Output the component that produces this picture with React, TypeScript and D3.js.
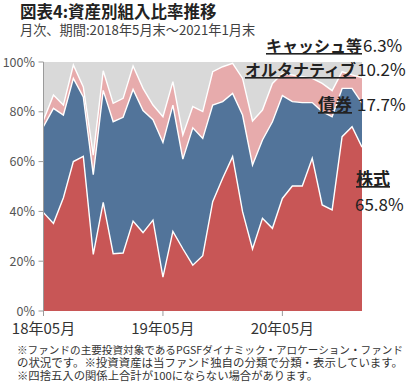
import React from "react";
import * as d3 from "d3";

const months = [
  "18年05月", "18年06月", "18年07月", "18年08月", "18年09月", "18年10月", "18年11月", "18年12月",
  "19年01月", "19年02月", "19年03月", "19年04月", "19年05月", "19年06月", "19年07月", "19年08月",
  "19年09月", "19年10月", "19年11月", "19年12月", "20年01月", "20年02月", "20年03月", "20年04月",
  "20年05月", "20年06月", "20年07月", "20年08月", "20年09月", "20年10月", "20年11月", "20年12月",
  "21年01月",
];

// 株式, 債券, オルタナティブ, キャッシュ等 (%)
const stocks = [
  39.5, 35.2, 45.5, 60.0, 62.1, 22.7, 43.6, 23.0, 23.3, 36.1, 31.5, 36.5, 13.6, 32.0, 25.0, 18.4,
  22.2, 43.9, 53.3, 62.0, 39.9, 24.9, 37.2, 33.2, 45.2, 50.2, 50.2, 61.3, 42.6, 40.6, 70.0, 74.0, 65.8,
];
const bonds = [
  34.6, 46.2, 33.2, 33.4, 23.9, 32.1, 45.0, 53.0, 54.5, 52.9, 49.0, 40.3, 54.1, 50.7, 36.0, 55.2,
  47.1, 38.8, 30.8, 25.4, 38.8, 33.7, 31.5, 42.8, 41.3, 33.9, 33.5, 22.4, 37.5, 37.4, 19.4, 15.4, 17.7,
];
const alts = [
  2.6, 5.3, 4.0, 5.4, 4.0, 7.8, 7.9, 7.4, 7.6, 9.4, 8.9, 5.9, 10.3, 9.4, 9.7, 8.5,
  10.8, 13.4, 14.0, 12.1, 14.7, 17.7, 12.0, 15.4, 8.9, 10.7, 10.4, 9.7, 11.3, 10.5, 6.7, 5.4, 10.2,
];
const cash = [
  23.3, 13.3, 17.3, 1.2, 10.0, 37.4, 3.5, 16.6, 14.6, 1.6, 10.6, 17.3, 22.0, 7.9, 29.3, 17.9,
  19.9, 3.9, 1.9, 0.5, 6.6, 23.7, 19.3, 8.6, 4.6, 5.2, 5.9, 6.6, 8.6, 11.5, 3.9, 5.2, 6.3,
];

const seriesKeys = ["株式", "債券", "オルタナティブ", "キャッシュ等"];
const colors = ["#C85656", "#52749A", "#E7ABAC", "#D9D9D9"];
const yTicks = [0, 20, 40, 60, 80, 100];
const xTickLabels = ["18年05月", "19年05月", "20年05月"];

const footnotes = [
  "※ファンドの主要投資対象であるPGSFダイナミック・アロケーション・ファンド",
  "の状況です。※投資資産は当ファンド独自の分類で分類・表示しています。",
  "※四捨五入の関係上合計が100にならない場合があります。",
];

const W = 407;
const H = 387;
const plot = { left: 43.5, right: 362, top: 62, bottom: 311 };
const font = "'Noto Sans CJK JP', 'Noto Sans', sans-serif";

export default function App() {
  const rows = months.map((m, i) => ({
    month: m,
    株式: stocks[i],
    債券: bonds[i],
    オルタナティブ: alts[i],
    キャッシュ等: cash[i],
  }));

  const x = d3.scalePoint<string>().domain(months).range([plot.left, plot.right]);
  const y = d3.scaleLinear().domain([0, 100]).range([plot.bottom, plot.top]);

  const stacked = d3.stack<any>().keys(seriesKeys)(rows);

  const area = d3
    .area<any>()
    .x((d) => x(d.data.month)!)
    .y0((d) => y(d[0]))
    .y1((d) => y(Math.min(100, d[1])));
  const line = d3
    .line<any>()
    .x((d) => x(d.data.month)!)
    .y((d) => y(Math.min(100, d[1])));

  // footnote lines: font size picked so natural width is near the target width
  const footSizes = [10.5, 11.2, 10.8];
  const footWidths = [386, 386, 301];

  return (
    <svg
      width={W}
      height={H}
      style={{ position: "absolute", left: 0, top: 0, background: "#fff" }}
      fontFamily={font}
    >
      <text x={20} y={18} fontSize={16.5} fontWeight="bold" fill="#222">
        図表4:資産別組入比率推移
      </text>
      <text x={20} y={35} fontSize={13.2} fill="#404040">
        月次、期間:2018年5月末～2021年1月末
      </text>

      <rect x={plot.left} y={plot.top} width={plot.right - plot.left} height={plot.bottom - plot.top} fill={colors[3]} />

      {stacked.map((s, i) => (
        <path key={s.key} d={area(s) || ""} fill={colors[i]} />
      ))}
      {stacked.slice(0, 3).map((s) => (
        <path key={"l" + s.key} d={line(s) || ""} fill="none" stroke="#fff" strokeWidth={1.4} />
      ))}

      {/* y axis */}
      <line x1={plot.left} x2={plot.left} y1={plot.top} y2={plot.bottom + 1} stroke="#9a9a9a" strokeWidth={1} />
      {yTicks.map((t) => (
        <g key={t}>
          <line x1={plot.left - 5} x2={plot.left} y1={y(t)} y2={y(t)} stroke="#9a9a9a" />
          <text x={35} y={y(t) + 4.5} fontSize={12.5} textAnchor="end" fill="#555">
            {t}%
          </text>
        </g>
      ))}

      {/* x axis ticks */}
      {xTickLabels.map((m) => (
        <g key={m}>
          <line x1={x(m)!} x2={x(m)!} y1={plot.bottom} y2={plot.bottom + 5} stroke="#9a9a9a" />
          <text x={x(m)!} y={334} fontSize={15} textAnchor="middle" fill="#333">
            {m}
          </text>
        </g>
      ))}

      {/* series labels */}
      <text x={362} y={52} fontSize={16} fontWeight="bold" textAnchor="end" fill="#222" textDecoration="underline">
        キャッシュ等
      </text>
      <text x={363} y={52} fontSize={17} fill="#222">
        {cash[cash.length - 1].toFixed(1)}%
      </text>
      <text x={356} y={76} fontSize={16} fontWeight="bold" textAnchor="end" fill="#222" textDecoration="underline">
        オルタナティブ
      </text>
      <text x={357} y={76} fontSize={17} fill="#222">
        {alts[alts.length - 1].toFixed(1)}%
      </text>
      <text x={352} y={111} fontSize={17} fontWeight="bold" textAnchor="end" fill="#222" textDecoration="underline">
        債券
      </text>
      <text x={357} y={111} fontSize={17} fill="#222">
        {bonds[bonds.length - 1].toFixed(1)}%
      </text>
      <text x={356} y={185} fontSize={17} fontWeight="bold" fill="#222" textDecoration="underline">
        株式
      </text>
      <text x={355} y={211} fontSize={17} fill="#222">
        {stocks[stocks.length - 1].toFixed(1)}%
      </text>

      {/* footnotes */}
      {footnotes.map((t, i) => (
        <text
          key={i}
          x={17}
          y={353.5 + i * 13.2}
          fontSize={footSizes[i]}
          fill="#333"
          textLength={footWidths[i]}
          lengthAdjust="spacingAndGlyphs"
        >
          {t}
        </text>
      ))}
    </svg>
  );
}
